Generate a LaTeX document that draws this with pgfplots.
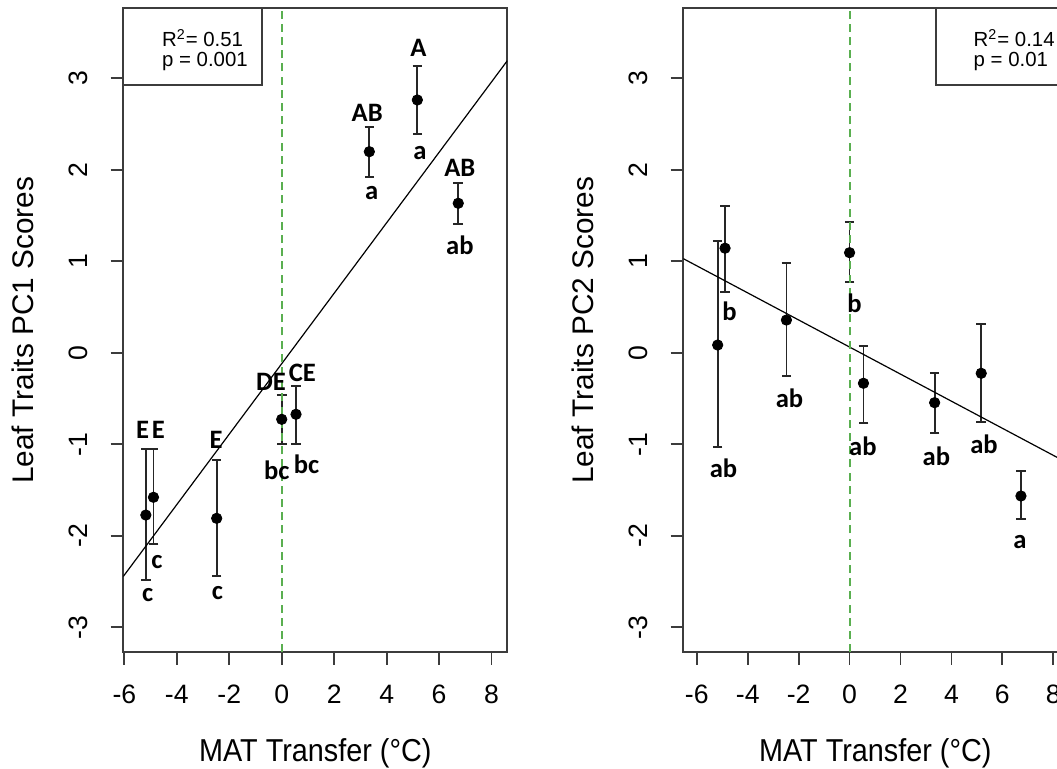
\documentclass[border=0pt]{standalone}
\usepackage{fontspec}
\setmainfont{Liberation Sans}
\newfontfamily\carlito{Carlito}
\usepackage{pgfplots}
\pgfplotsset{compat=1.18}
\definecolor{dashgreen}{RGB}{90,175,80}
\definecolor{axgray}{RGB}{60,60,60}

\pgfplotstableread{
x y ep em
-5.18 -1.774 0.722 0.710
-4.89 -1.580 0.528 0.514
-2.48 -1.810 0.637 0.630
0.00 -0.728 0.266 0.273
0.545 -0.673 0.309 0.328
3.34 2.197 0.273 0.274
5.17 2.762 0.371 0.375
6.73 1.633 0.225 0.230
}\pcone

\pgfplotstableread{
x y ep em
-5.18 0.084 1.140 1.118
-4.89 1.142 0.465 0.475
-2.48 0.357 0.620 0.612
0.00 1.093 0.339 0.324
0.545 -0.334 0.411 0.438
3.34 -0.546 0.321 0.335
5.17 -0.225 0.539 0.529
6.73 -1.566 0.276 0.255
}\pctwo

\tikzset{
  lett/.style={font=\carlito\bfseries\fontsize{13.3pt}{13.3pt}\selectfont, inner sep=0pt, anchor=center},
  leg/.style={font=\fontsize{10.2pt}{10.2pt}\selectfont, inner sep=0pt, anchor=base west},
}

\pgfplotsset{
  rstyle/.style={
    scale only axis, width=192pt, height=322pt,
    axis line style={axgray, line width=0.9pt},
    tick style={axgray, line width=0.9pt},
    tick align=outside, major tick length=6.35pt,
    tick pos=left,
    xtick={-6,-4,-2,0,2,4,6,8}, ytick={-3,-2,-1,0,1,2,3},
    ymin=-3.274, ymax=3.764,
    /pgf/number format/assume math mode=true,
    ticklabel style={font=\fontsize{13.3pt}{13.3pt}\selectfont},
    xticklabel style={anchor=base, yshift=-19.3pt},
    yticklabel style={xshift=-11.6pt, rotate=90, anchor=base},
    xlabel style={at={(axis description cs:0.5,-0.1699)}, anchor=base, font=\fontsize{14.4pt}{14.4pt}\selectfont},
    ylabel style={at={(axis description cs:-0.2344,0.5)}, rotate=0, anchor=base, font=\fontsize{14.9pt}{14.9pt}\selectfont},
  },
  pts/.style={only marks, mark=*, mark size=2.6pt, black,
    error bars/.cd, y dir=both, y explicit,
    error bar style={line width=0.9pt, black!85},
    error mark options={rotate=90, mark size=2.4pt, line width=0.9pt, black!85}},
}

\begin{document}
\begin{tikzpicture}
% ---------------- Left panel ----------------
\begin{axis}[rstyle, at={(61.65pt,-326.15pt)}, anchor=south west,
  xmin=-6.04, xmax=8.60, ylabel={Leaf Traits PC1 Scores},
  xlabel={\scalebox{1}[1.1]{MAT Transfer (°C)}}]
\addplot[pts] table[x=x, y=y, y error plus=ep, y error minus=em] {\pcone};
\addplot[black, line width=0.6pt] coordinates {(-6.04,-2.445) (8.60,3.191)};
\addplot[dashgreen, line width=1pt, dash pattern=on 4pt off 2.6pt] coordinates {(0,-3.274) (0,3.764)};
\draw[axgray, line width=0.9pt] (axis description cs:0,1) rectangle (axis description cs:0.3604,0.881);
\node[leg] at (axis description cs:0.1,0.9404) {R\textsuperscript{2}= 0.51};
\node[leg] at (axis description cs:0.1,0.9093) {p = 0.001};
\node[lett] at (axis cs:-5.30,-0.845) {E};
\node[lett] at (axis cs:-4.70,-0.845) {E};
\node[lett] at (axis cs:-4.76,-2.284) {c};
\node[lett] at (axis cs:-5.11,-2.648) {c};
\node[lett] at (axis cs:-2.50,-0.954) {E};
\node[lett] at (axis cs:-2.45,-2.630) {c};
\node[lett] at (axis cs:-0.41,-0.317) {DE};
\node[lett] at (axis cs:-0.19,-1.282) {bc};
\node[lett] at (axis cs:0.785,-0.225) {CE};
\node[lett] at (axis cs:0.95,-1.216) {bc};
\node[lett] at (axis cs:3.26,2.616) {AB};
\node[lett] at (axis cs:3.43,1.749) {a};
\node[lett] at (axis cs:5.21,3.333) {A};
\node[lett] at (axis cs:5.27,2.186) {a};
\node[lett] at (axis cs:6.79,2.015) {AB};
\node[lett] at (axis cs:6.79,1.177) {ab};
\end{axis}
% ---------------- Right panel ----------------
\begin{axis}[rstyle, at={(341.65pt,-326.15pt)}, anchor=south west,
  xmin=-6.53, xmax=8.55, ylabel={Leaf Traits PC2 Scores},
  xlabel={\scalebox{1}[1.1]{MAT Transfer (°C)}}]
\addplot[pts] table[x=x, y=y, y error plus=ep, y error minus=em] {\pctwo};
\addplot[black, line width=0.6pt] coordinates {(-6.53,1.028) (8.55,-1.203)};
\addplot[dashgreen, line width=1pt, dash pattern=on 4pt off 2.6pt] coordinates {(0,-3.274) (0,3.764)};
\draw[axgray, line width=0.9pt] (axis description cs:0.6573,1) rectangle (axis description cs:1.05,0.881);
\node[leg] at (axis description cs:0.7552,0.9404) {R\textsuperscript{2}= 0.14};
\node[leg] at (axis description cs:0.7552,0.9093) {p = 0.01};
\node[lett] at (axis cs:-4.95,-1.263) {ab};
\node[lett] at (axis cs:-4.72,0.448) {b};
\node[lett] at (axis cs:-2.36,-0.498) {ab};
\node[lett] at (axis cs:0.197,0.540) {b};
\node[lett] at (axis cs:0.524,-1.027) {ab};
\node[lett] at (axis cs:3.41,-1.129) {ab};
\node[lett] at (axis cs:5.28,-0.998) {ab};
\node[lett] at (axis cs:6.69,-2.066) {a};
\end{axis}
\pgfresetboundingbox
\path[use as bounding box] (0pt,0pt) rectangle (528.5pt,-384.5pt);
\end{tikzpicture}
\end{document}
